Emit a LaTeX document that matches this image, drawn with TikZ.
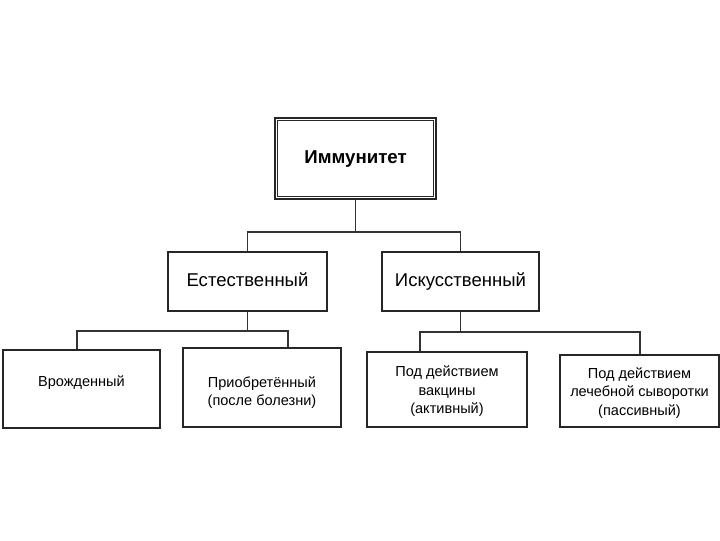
\documentclass[tikz,border=0pt]{standalone}
\usepackage{fontspec}
\setmainfont{Liberation Sans}
\begin{document}
\begin{tikzpicture}[x=0.75pt,y=-0.75pt]
\tikzset{
  box/.style={draw=black!85, line width=1pt, fill=white, align=center, inner sep=0pt, text height=0.716em, text depth=0pt, font=\fontsize{13.9}{16}\selectfont},
  topbox/.style={draw=black!85, line width=0.8pt, align=center, inner sep=0pt, text height=0.716em, text depth=0pt, font=\bfseries\fontsize{14}{16}\selectfont},
  innerframe/.style={draw=black!85, line width=0.8pt},
  leaf/.style={draw=black!85, line width=1pt, fill=white, inner sep=0pt},
  leaftext/.style={align=center, inner sep=0pt, text depth=0.25em, font=\fontsize{10.9}{13.7}\selectfont},
  conn/.style={draw=black!80, line width=0.8pt}
}
\useasboundingbox (0,0) rectangle (720,540);
\node[topbox, minimum width=120.75pt, minimum height=60.75pt] (top) at (355.5,158.5) {Иммунитет};
\draw[innerframe] ([shift={(3,3)}]top.north west) rectangle ([shift={(-3,-3)}]top.south east);
\node[box, minimum width=119.25pt, minimum height=44.25pt] (est) at (247.5,281.5) {Естественный};
\node[box, minimum width=117.75pt, minimum height=44.25pt] (isk) at (460.5,281.5) {Искусственный};
\node[leaf, minimum width=117.75pt, minimum height=58.5pt] (vr) at (81.5,389) {};
\node[leaf, minimum width=118.5pt, minimum height=59.25pt] (pr) at (262,387.5) {};
\node[leaf, minimum width=120pt, minimum height=56.25pt] (vak) at (447,389.5) {};
\node[leaf, minimum width=119.25pt, minimum height=54pt] (syv) at (639.5,391) {};
\node[leaftext, yshift=4.5pt] (vrt) at (vr.center) {Врожденный};
\node[leaftext, yshift=-3.75pt] (prt) at (pr.center) {Приобретённый\\(после болезни)};
\node[leaftext, yshift=-1.5pt] (vakt) at (vak.center) {Под действием\\вакцины\\(активный)};
\node[leaftext, yshift=-1.5pt] (syvt) at (syv.center) {Под действием\\лечебной сыворотки\\(пассивный)};
\coordinate (j1) at (355.5,232);
\coordinate (j2) at (247.5,331);
\coordinate (j3) at (460.5,332);
\coordinate (c77) at (77,0);
\coordinate (c288) at (288,0);
\coordinate (c420) at (420,0);
\coordinate (c640) at (640,0);
\draw[conn] (top.south) -- (j1);
\draw[conn] (est.north) |- (j1) -| (isk.north);
\draw[conn] (est.south) -- (j2);
\draw[conn] (vr.north -| c77) |- (j2) -| (pr.north -| c288);
\draw[conn] (isk.south) -- (j3);
\draw[conn] (vak.north -| c420) |- (j3) -| (syv.north -| c640);
\end{tikzpicture}
\end{document}
